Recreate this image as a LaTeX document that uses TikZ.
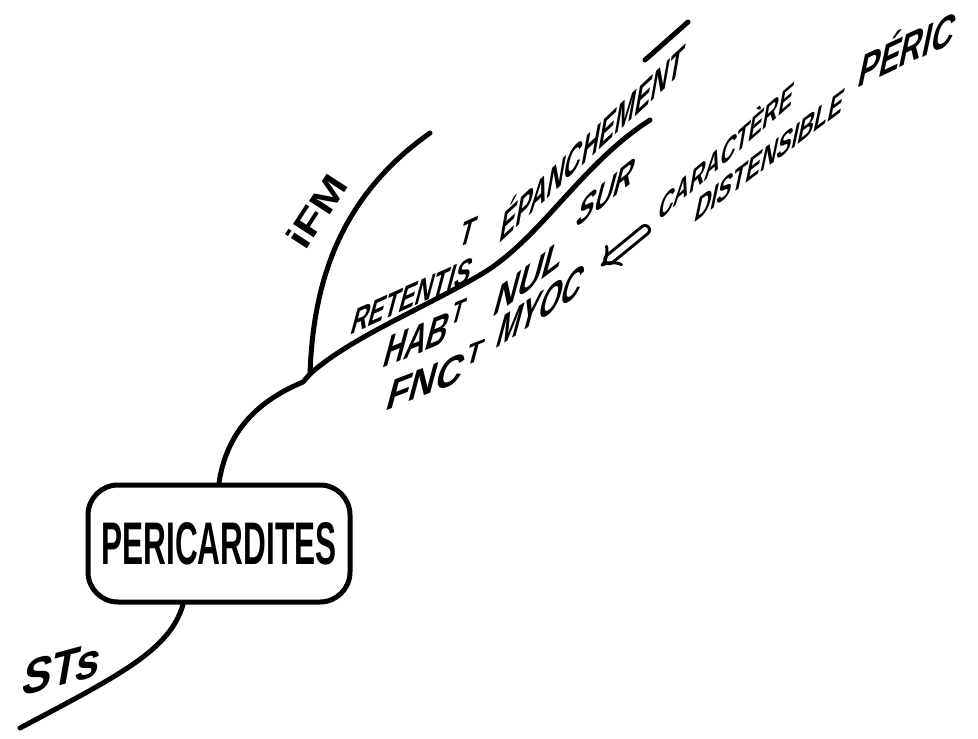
\documentclass[tikz,border=0pt]{standalone}
\usepackage{fontspec}
\setmainfont{Liberation Sans}
\usepackage{graphicx}
\usetikzlibrary{arrows.meta,calc}
\tikzset{
  stroke/.style={line width=5pt, line cap=round, line join=round},
  hw/.style={inner sep=0pt, font=\bfseries, anchor=south west},
}
\newcommand{\hw}[3]{\resizebox{#1}{#2}{#3}}
\begin{document}
\begin{tikzpicture}[x=1pt,y=-1pt]
\useasboundingbox[fill=white] (0,0) rectangle (978,739);
% central box
\node[stroke, draw, rounded corners=30pt, minimum width=262pt, minimum height=117pt, inner sep=0pt, font=\bfseries] (box) at (219,543.5) {\raisebox{-12pt}{\hw{235pt}{42pt}{PERICARDITES}}};
% coordinates
\coordinate (j) at (310,374);
\coordinate (ifmend) at (430,133);
\coordinate (b2end) at (650,120);
\coordinate (t1) at (645,60);
\coordinate (t2) at (688,22);
\coordinate (stsend) at (20,728);
\coordinate (a1) at (645,230);
\coordinate (a2) at (601,266);
% connectors
\draw[stroke] (box.north) .. controls (228,425) and (265,398) .. (303,382) -- (j);
\draw[stroke] (j) .. controls (313,290) and (335,200) .. (ifmend);
\draw[stroke] (j) .. controls (350,338) and (420,310) .. (480,275) .. controls (540,240) and (580,165) .. (b2end);
\draw[stroke] (t1) -- (t2);
\draw[stroke] ($(box.south)+(-36,0)$) .. controls (170,650) and (120,675) .. (stsend);
\draw[line width=3pt, line cap=round, double, double distance=6pt, -{Implies}] (a1) -- (a2);
% labels
\node[hw, rotate=57] (ifm) at (306,252) {\hw{80pt}{26pt}{iFM}};
\node[hw, cm={0.9659,0.2588,0.1736,0.9848,(0,0)}] (sts) at (20,697) {\hw{80pt}{36pt}{STs}};
\node[hw, cm={0.9135,0.4067,0.2588,0.9659,(0,0)}] (ret) at (349,336) {\hw{130pt}{72pt}{RETENTIS\makebox[0pt][r]{\raisebox{1.15em}{T}\hspace{0.3em}}}};
\node[hw, cm={0.7314,0.6820,0.1736,0.9848,(0,0)}] (epa) at (498,245) {\hw{250pt}{40pt}{ÉPANCHEMENT}};
\node[hw, cm={0.9272,0.3746,0.2588,0.9659,(0,0)}] (hab) at (381,369) {\hw{84pt}{41pt}{HAB\textsuperscript{T}}};
\node[hw, cm={0.7986,0.6018,0.2588,0.9659,(0,0)}] (nul) at (491,319) {\hw{86pt}{33pt}{NUL}};
\node[hw, cm={0.7804,0.6252,0.2588,0.9659,(0,0)}] (sur) at (574,230) {\hw{72pt}{31pt}{SUR}};
\node[hw, cm={0.9336,0.3584,0.2588,0.9659,(0,0)}] (fnc) at (384,412) {\hw{100pt}{39pt}{FNC\textsuperscript{T}}};
\node[hw, cm={0.8480,0.5299,0.2588,0.9659,(0,0)}] (myoc) at (494,350) {\hw{100pt}{35pt}{MYOC}};
\node[hw, cm={0.7547,0.6561,0.1736,0.9848,(0,0)}] (car) at (657,223) {\hw{178pt}{32pt}{CARACTÈRE}};
\node[hw, cm={0.7986,0.6018,0.2079,0.9781,(0,0)}] (dis) at (693,224) {\hw{185pt}{26pt}{DISTENSIBLE}};
\node[hw, cm={0.9063,0.4226,0.2079,0.9781,(0,0)}] (peric) at (856,89) {\hw{105pt}{43pt}{PÉRIC}};
\end{tikzpicture}
\end{document}
